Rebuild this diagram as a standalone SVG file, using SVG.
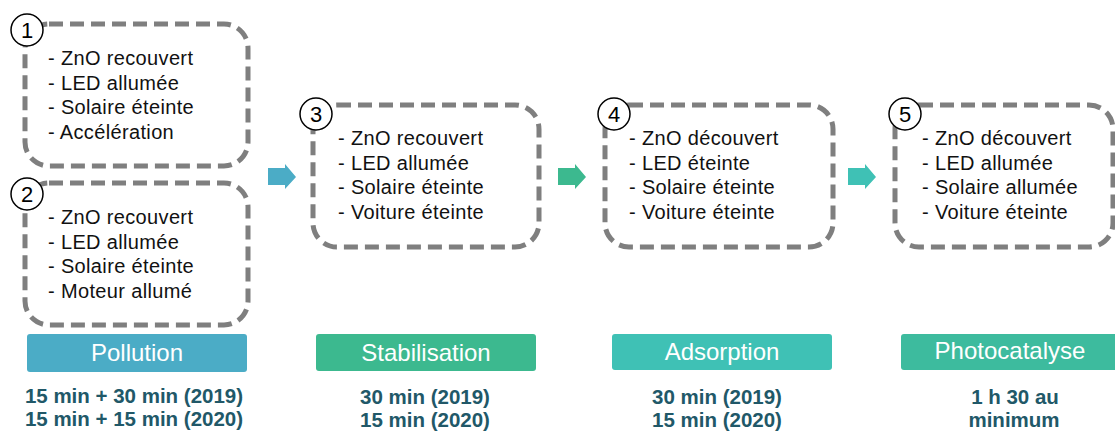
<svg xmlns="http://www.w3.org/2000/svg" width="1115" height="432" viewBox="0 0 1115 432">
<style>
.box{fill:#fff;stroke:#7f7f7f;stroke-width:5;stroke-dasharray:14 7}
.num{fill:#fff;stroke:#000;stroke-width:1.5}
.numt{font-family:"Liberation Sans",Arial,sans-serif;font-size:22px;fill:#000;text-anchor:middle}
.t{font-family:"Liberation Sans",Arial,sans-serif;font-size:20px;fill:#111;letter-spacing:0.35px}
.bt{font-family:"Liberation Sans",Arial,sans-serif;font-size:24px;fill:#fff;text-anchor:middle}
.tm{font-family:"Liberation Sans",Arial,sans-serif;font-size:20.5px;font-weight:bold;fill:#215868;text-anchor:middle}
</style>
<rect width="1115" height="432" fill="#fff"/>
<g id="connectors">
<path d="M268,168 H285 V164 L296,177 L285,189 V185 H268 Z" fill="#4bacc6"/>
<path d="M558,168 H575 V164 L586,177 L575,189 V185 H558 Z" fill="#3cb98f"/>
<path d="M848,168 H865 V164 L876,177 L865,189 V185 H848 Z" fill="#3fc1b5"/>
</g>
<g id="node1">
<rect class="box" x="25" y="24" width="223" height="142" rx="24"/>
<circle class="num" cx="27" cy="30" r="16"/>
<text class="numt" x="27" y="38">1</text>
<text class="t" x="48" y="65">- ZnO recouvert</text>
<text class="t" x="48" y="90">- LED allumée</text>
<text class="t" x="48" y="114">- Solaire éteinte</text>
<text class="t" x="48" y="139">- Accélération</text>
</g>
<g id="node2">
<rect class="box" x="25" y="183" width="223" height="142" rx="24"/>
<circle class="num" cx="27" cy="194" r="16"/>
<text class="numt" x="27" y="202">2</text>
<text class="t" x="48" y="224">- ZnO recouvert</text>
<text class="t" x="48" y="249">- LED allumée</text>
<text class="t" x="48" y="273">- Solaire éteinte</text>
<text class="t" x="48" y="298">- Moteur allumé</text>
</g>
<g id="node3">
<rect class="box" x="313" y="105" width="226" height="142" rx="24"/>
<circle class="num" cx="316" cy="114" r="16"/>
<text class="numt" x="316" y="122">3</text>
<text class="t" x="338" y="145">- ZnO recouvert</text>
<text class="t" x="338" y="170">- LED allumée</text>
<text class="t" x="338" y="194">- Solaire éteinte</text>
<text class="t" x="338" y="219">- Voiture éteinte</text>
</g>
<g id="node4">
<rect class="box" x="605" y="105" width="228" height="142" rx="24"/>
<circle class="num" cx="614" cy="114" r="16"/>
<text class="numt" x="614" y="122">4</text>
<text class="t" x="629" y="145">- ZnO découvert</text>
<text class="t" x="629" y="170">- LED éteinte</text>
<text class="t" x="629" y="194">- Solaire éteinte</text>
<text class="t" x="629" y="219">- Voiture éteinte</text>
</g>
<g id="node5">
<rect class="box" x="895" y="105" width="218" height="142" rx="24"/>
<circle class="num" cx="905" cy="114" r="16"/>
<text class="numt" x="905" y="122">5</text>
<text class="t" x="922" y="145">- ZnO découvert</text>
<text class="t" x="922" y="170">- LED allumée</text>
<text class="t" x="922" y="194">- Solaire allumée</text>
<text class="t" x="922" y="219">- Voiture éteinte</text>
</g>
<g id="pollution">
<rect x="27" y="334" width="220" height="38" rx="3" fill="#4bacc6"/>
<text class="bt" x="137" y="361">Pollution</text>
<text class="tm" x="134" y="403">15 min + 30 min (2019)</text>
<text class="tm" x="134" y="426">15 min + 15 min (2020)</text>
</g>
<g id="stabilisation">
<rect x="316" y="334" width="220" height="37" rx="3" fill="#3cb98f"/>
<text class="bt" x="426" y="361">Stabilisation</text>
<text class="tm" x="425" y="404">30 min (2019)</text>
<text class="tm" x="425" y="427">15 min (2020)</text>
</g>
<g id="adsorption">
<rect x="612" y="334" width="220" height="36" rx="3" fill="#3fc1b5"/>
<text class="bt" x="722" y="360">Adsorption</text>
<text class="tm" x="717" y="404">30 min (2019)</text>
<text class="tm" x="717" y="427">15 min (2020)</text>
</g>
<g id="photocatalyse">
<rect x="901" y="334" width="220" height="36" rx="3" fill="#3dbb9e"/>
<text class="bt" x="1010" y="359">Photocatalyse</text>
<text class="tm" x="1015" y="404">1 h 30 au</text>
<text class="tm" x="1014" y="427">minimum</text>
</g>
</svg>
